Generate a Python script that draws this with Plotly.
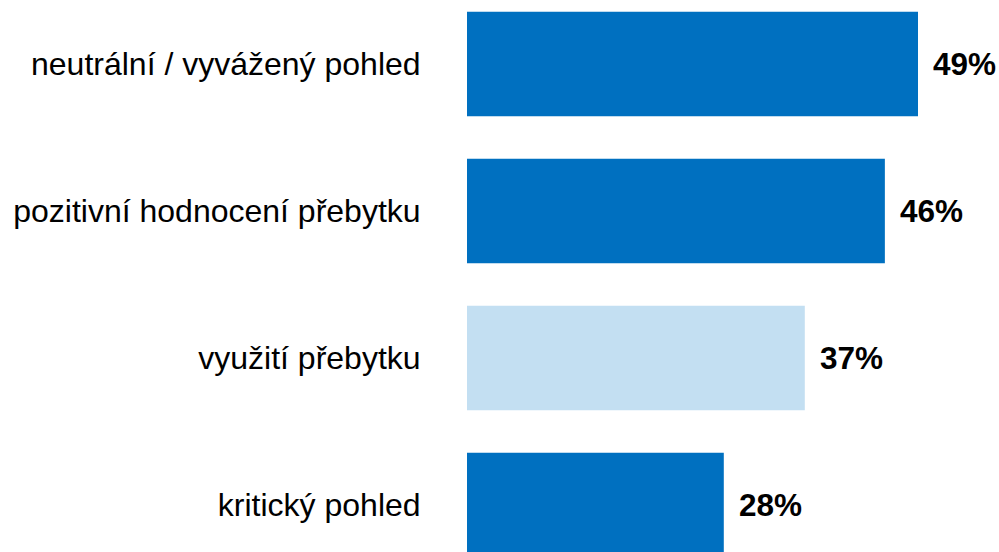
import plotly.graph_objects as go

categories = ["neutrální / vyvážený pohled", "pozitivní hodnocení přebytku", "využití přebytku", "kritický pohled"]
values = [49.0, 45.4, 36.7, 27.9]
labels = ["49%", "46%", "37%", "28%"]
colors = ["#0070C0", "#0070C0", "#C3DFF2", "#0070C0"]

fig = go.Figure()
fig.add_trace(go.Bar(
    x=values, y=categories, orientation="h",
    marker=dict(color=colors, line=dict(width=0)),
    width=0.71, hoverinfo="skip",
))
for c, v, t in zip(categories, values, labels):
    fig.add_annotation(x=v, y=c, text="<b>" + t + "</b>", showarrow=False,
                       xanchor="left", yanchor="middle", xshift=13,
                       font=dict(family="Liberation Sans, Arial", size=31.5, color="#000000"))

fig.update_layout(
    width=999, height=552,
    margin=dict(l=467, r=0, t=0, b=0),
    paper_bgcolor="white", plot_bgcolor="white",
    showlegend=False,
    font=dict(family="Liberation Sans, Arial", size=32, color="#000000"),
)
fig.update_xaxes(range=[0, 57.8], visible=False, showgrid=False, zeroline=False)
fig.update_yaxes(type="category", categoryorder="array", categoryarray=categories,
                 range=[3.32, -0.435], showgrid=False, zeroline=False, showline=False,
                 ticks="outside", ticklen=39, tickcolor="rgba(0,0,0,0)",
                 tickfont=dict(family="Liberation Sans, Arial", size=32, color="#000000"))

fig.write_html("out.html")
